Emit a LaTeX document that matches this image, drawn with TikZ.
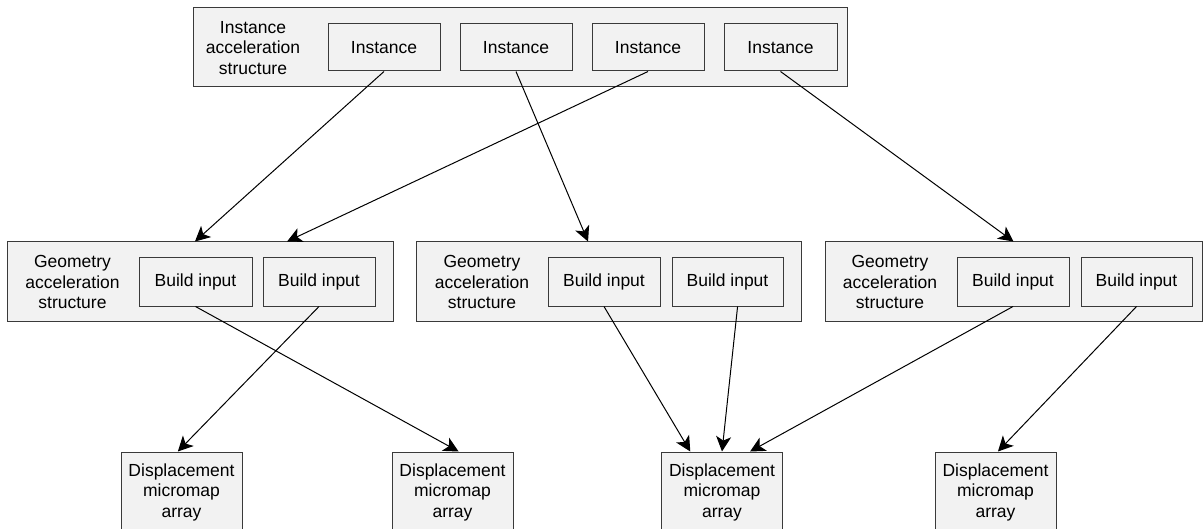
\documentclass[tikz,border=0pt]{standalone}
\usepackage{fontspec}
\setmainfont{Liberation Sans}
\usetikzlibrary{arrows.meta,calc}
\definecolor{boxfill}{HTML}{F2F2F2}
\definecolor{boxline}{HTML}{3A3A3A}
\begin{document}
\begin{tikzpicture}[x=1pt,y=-1pt,
  every node/.style={font=\fontsize{17.5}{20.5}\selectfont},
  outer/.style={draw=boxline,fill=boxfill,line width=1pt,minimum height=79pt,inner sep=0pt},
  inner/.style={draw=boxline,fill=boxfill,line width=1pt,minimum height=47pt,inner sep=0pt},
  label/.style={align=center,inner sep=0pt},
  dmm/.style={draw=boxline,fill=boxfill,line width=1pt,minimum width=121pt,minimum height=80pt,align=center,inner sep=0pt},
  conn/.style={line width=1pt,-{Stealth[length=15pt,width=15pt,inset=4pt]}}]
\useasboundingbox (0,0) rectangle (1204,529);
\clip (0,0) rectangle (1204,529);
% top instance AS
\node[outer,minimum width=654pt] (ias) at (520,47.5) {};
\node[label] (iasl) at (253,48) {Instance\\acceleration\\structure};
\node[inner,minimum width=112pt] (i1) at (384,47.5) {Instance};
\node[inner,minimum width=112pt] (i2) at (516,47.5) {Instance};
\node[inner,minimum width=112pt] (i3) at (648,47.5) {Instance};
\node[inner,minimum width=113pt] (i4) at (780.5,47.5) {Instance};
% geometry AS
\node[outer,minimum width=386pt] (g1) at (200,281.5) {};
\node[outer,minimum width=385pt] (g2) at (608.5,281.5) {};
\node[outer,minimum width=377pt] (g3) at (1013.5,281.5) {};
\node[label] (g1l) at (72.5,282) {Geometry\\acceleration\\structure};
\node[label] (g2l) at (482,282) {Geometry\\acceleration\\structure};
\node[label] (g3l) at (890,282) {Geometry\\acceleration\\structure};
\node[inner,minimum height=48pt,minimum width=113pt] (b11) at (195.5,282) {Build input};
\node[inner,minimum height=48pt,minimum width=112pt] (b12) at (319,282) {Build input};
\node[inner,minimum height=48pt,minimum width=112pt] (b21) at (604,282) {Build input};
\node[inner,minimum height=48pt,minimum width=111pt] (b22) at (727.5,282) {Build input};
\node[inner,minimum height=48pt,minimum width=112pt] (b31) at (1013,282) {Build input};
\node[inner,minimum height=48pt,minimum width=111pt] (b32) at (1136.5,282) {Build input};
% displacement micromap arrays
\node[dmm] (d1) at (181.5,492) {Displacement\\micromap\\array};
\node[dmm] (d2) at (452.5,492) {Displacement\\micromap\\array};
\node[dmm] (d3) at (722,492) {Displacement\\micromap\\array};
\node[dmm] (d4) at (995.5,492) {Displacement\\micromap\\array};
% connectors
\draw[conn] (i1.south) -- ($(g1.north west)!0.487!(g1.north east)$);
\draw[conn] (i3.south) -- ($(g1.north west)!0.725!(g1.north east)$);
\draw[conn] (i2.south) -- ($(g2.north west)!0.447!(g2.north east)$);
\draw[conn] (i4.south) -- (g3.north);
\draw[conn] (b11.south) -- ($(d2.north west)!0.55!(d2.north east)$);
\draw[conn] (b12.south) -- ($(d1.north west)!0.47!(d1.north east)$);
\draw[conn] (b21.south) -- ($(d3.north west)!0.24!(d3.north east)$);
\draw[conn] ($(b22.south west)!0.59!(b22.south east)$) -- ($(d3.north west)!0.5!(d3.north east)$);
\draw[conn] (b31.south) -- ($(d3.north west)!0.73!(d3.north east)$);
\draw[conn] (b32.south) -- ($(d4.north west)!0.52!(d4.north east)$);
\end{tikzpicture}
\end{document}
